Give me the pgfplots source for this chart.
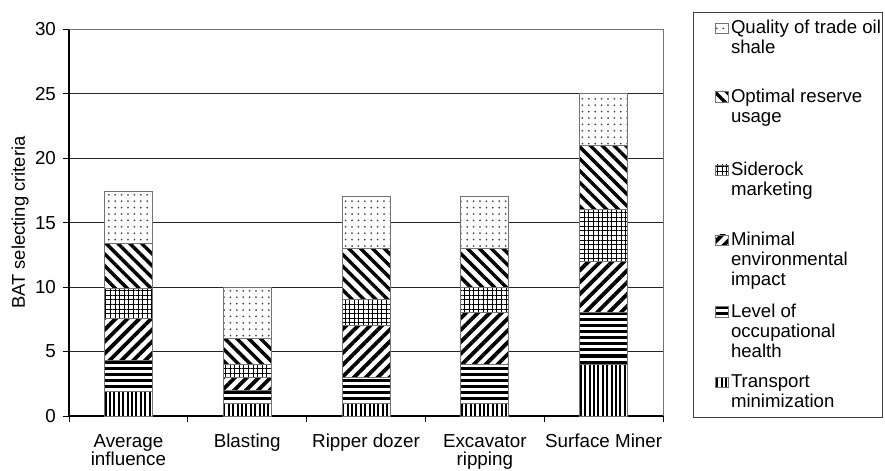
\documentclass[border=0pt]{standalone}
\usepackage{pgfplots}
\pgfplotsset{compat=1.18}
\usetikzlibrary{patterns.meta}
\usepackage{fontspec}
\setmainfont{Liberation Sans}
% legend entry: first line, remaining lines (\cr separated), extra depth
\newcommand\lgd[3]{\vtop{\baselineskip=10pt\lineskiplimit=-100pt\lineskip=0pt\halign{##\hfil\cr\rule{0pt}{7pt}#1\cr#2\rule[-#3]{0pt}{0pt}\crcr}}}
% two-line tick label
\newcommand\tl[2]{\vtop{\baselineskip=9.2pt\lineskiplimit=-100pt\lineskip=0pt\halign{\hfil##\hfil\cr\rule{0pt}{7pt}#1\cr#2\crcr}}}
\newcommand\tlo[1]{\rule{0pt}{7pt}#1}

\begin{document}
\begin{tikzpicture}
\begin{axis}[
  name=ax,
  scale only axis, width=297pt, height=193.35pt,
  ybar stacked, bar width=24pt,
  xmin=-0.5, xmax=4.5, ymin=0, ymax=30,
  ytick={0,5,...,30},
  xtick={0,1,2,3,4},
  xticklabels={\tl{Average}{influence}, \tlo{Blasting}, \tlo{Ripper dozer}, \tl{Excavator}{ripping}, \tlo{Surface Miner}},
  minor xtick={-0.5,0.5,...,4.5},
  major x tick style={draw=none},
  tick align=outside,
  major tick length=3pt, minor tick length=3pt,
  tick style={black, line width=0.5pt},
  axis x line*=bottom, axis y line*=left,
  axis line style={-, black, line width=0.6pt},
  ymajorgrids, grid style={black!85, line width=0.5pt},
  /pgf/number format/assume math mode=true,
  ticklabel style={font=\fontsize{9.4}{9.2}\selectfont},
  x tick label style={yshift=-2pt},
  ylabel={BAT selecting criteria},
  ylabel style={font=\fontsize{9.2}{9.2}\selectfont, at={([xshift=-22pt]rel axis cs:0,0.5)}, anchor=base},
  legend style={at={(rel axis cs:1,1)}, anchor=north west, xshift=15.15pt, yshift=8.8pt,
    draw=black!75, line width=0.5pt, font=\fontsize{9.3}{10}\selectfont,
    cells={anchor=base west}, nodes={inner sep=0pt, text depth=, text height=},
    row sep=0pt, column sep=0pt, inner xsep=1pt, inner ysep=3.8pt},
  reverse legend,
  legend image code/.code={\path (0pt,0pt) (17.1pt,0pt);
    \draw[#1, line width=0.4pt] (9.6pt,0pt) rectangle (15.9pt,5.3pt);},
  every axis plot/.append style={draw=black!55, line width=0.5pt, fill=white},
]
\addplot[postaction={pattern={Lines[angle=90,distance=2.2pt,line width=1.05pt]}}]
  coordinates {(0,1.9) (1,1) (2,1) (3,1) (4,4)};
\addlegendentry{\lgd{Transport}{minimization}{0.9pt}}
\addplot[postaction={pattern={Lines[angle=0,distance=3pt,line width=1.5pt]}}]
  coordinates {(0,2.4) (1,1) (2,2) (3,3) (4,4)};
\addlegendentry{\lgd{Level of}{occupational\cr health}{8.3pt}}
\addplot[postaction={pattern={Lines[angle=45,distance=4.2pt,line width=1.9pt]}}]
  coordinates {(0,3.3) (1,1) (2,4) (3,4) (4,4)};
\addlegendentry{\lgd{Minimal}{environmental\cr impact}{8.85pt}}
\addplot[postaction={pattern={Hatch[distance=2.3pt,line width=0.45pt]}}]
  coordinates {(0,2.3) (1,1) (2,2) (3,2) (4,4)};
\addlegendentry{\lgd{Siderock}{marketing}{18pt}}
\addplot[postaction={pattern={Lines[angle=-45,distance=4.2pt,line width=1.7pt]}}]
  coordinates {(0,3.5) (1,2) (2,4) (3,3) (4,5)};
\addlegendentry{\lgd{Optimal reserve}{usage}{19.65pt}}
\addplot[postaction={pattern={Dots[distance=3.2pt,radius=0.5pt]}, pattern color=black!70}]
  coordinates {(0,4.0) (1,4) (2,4) (3,4) (4,4)};
\addlegendentry{\lgd{Quality of trade oil}{shale}{17.2pt}}
\end{axis}
\draw[black!55, line width=0.5pt] (ax.north west) -- (ax.north east) -- (ax.south east);
\pgfresetboundingbox
\path[use as bounding box] ([shift={(-34.5pt,-27pt)}]ax.south west) rectangle ([shift={(111pt,14.65pt)}]ax.north east);
\end{tikzpicture}
\end{document}
